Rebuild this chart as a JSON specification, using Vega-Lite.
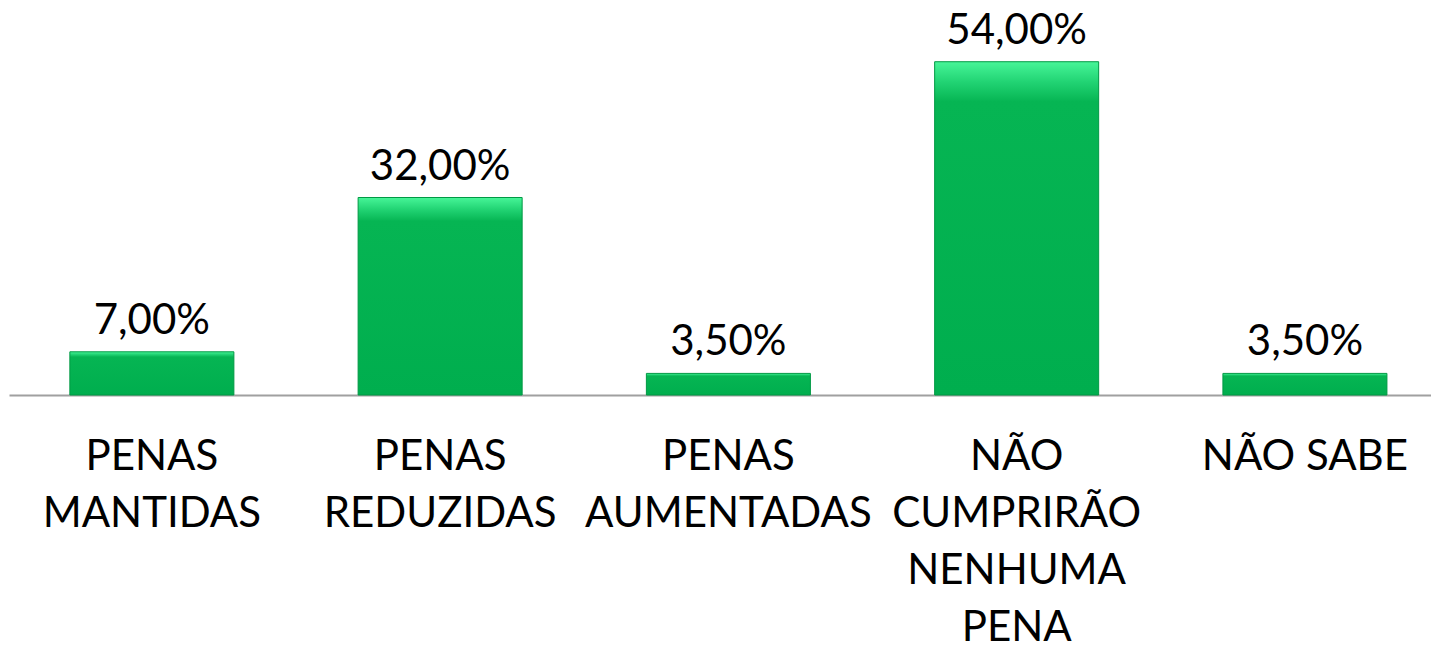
{
  "$schema": "https://vega.github.io/schema/vega-lite/v6.json",
  "width": 1422,
  "height": 395,
  "padding": {"left": 9, "top": 0, "right": 0, "bottom": 255},
  "autosize": {"type": "none"},
  "background": "white",
  "config": {
    "view": {"stroke": null},
    "locale": {"number": {"decimal": ",", "thousands": ".", "grouping": [3], "currency": ["R$", ""]}},
    "font": "Lato"
  },
  "data": {
    "values": [
      {"categoria": "PENAS|MANTIDAS", "valor": 0.07},
      {"categoria": "PENAS|REDUZIDAS", "valor": 0.32},
      {"categoria": "PENAS|AUMENTADAS", "valor": 0.035},
      {"categoria": "NÃO|CUMPRIRÃO|NENHUMA|PENA", "valor": 0.54},
      {"categoria": "NÃO SABE", "valor": 0.035}
    ]
  },
  "encoding": {
    "x": {
      "field": "categoria",
      "type": "nominal",
      "sort": null,
      "scale": {"paddingInner": 0.431, "paddingOuter": 0.182, "align": 0.58},
      "axis": {
        "title": null,
        "labelAngle": 0,
        "labelExpr": "split(datum.value, '|')",
        "labelFont": "Lato",
        "labelFontSize": 42,
        "labelColor": "#000000",
        "labelLineHeight": 57,
        "labelPadding": 41,
        "labelLimit": 400,
        "ticks": false,
        "domainColor": "#A0A0A0",
        "domainWidth": 2,
        "grid": false
      }
    },
    "y": {
      "field": "valor",
      "type": "quantitative",
      "scale": {"domain": [0, 0.64]},
      "axis": null
    }
  },
  "layer": [
    {
      "mark": {
        "type": "bar",
        "fill": {
          "gradient": "linear",
          "x1": 0, "y1": 0, "x2": 0, "y2": 1,
          "stops": [
            {"offset": 0, "color": "#47F598"},
            {"offset": 0.06, "color": "#22D474"},
            {"offset": 0.12, "color": "#06B553"},
            {"offset": 1, "color": "#00AE4E"}
          ]
        },
        "stroke": "#009944",
        "strokeWidth": 1
      }
    },
    {
      "mark": {"type": "text", "baseline": "alphabetic", "dy": -18, "font": "Lato", "fontSize": 42, "color": "#000000"},
      "encoding": {
        "text": {"field": "valor", "type": "quantitative", "format": ".2%"}
      }
    }
  ]
}
